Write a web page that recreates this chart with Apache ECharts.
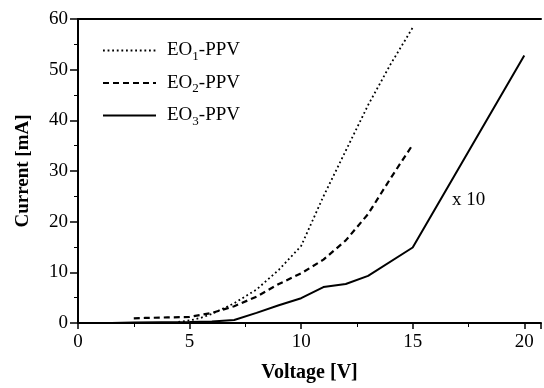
<!DOCTYPE html>
<html><head><meta charset="utf-8">
<script src="https://cdn.jsdelivr.net/npm/echarts@6/dist/echarts.min.js"></script>
<style>html,body{margin:0;padding:0;background:#fff}#c{width:544px;height:388px}</style>
</head><body><div id="c"></div>
<script>
const eo1X = [4.5, 5, 5.5, 6, 7, 8, 9, 10, 11, 12, 13, 14, 15];
const eo1Y = [0.2, 0.5, 1.0, 1.8, 3.9, 6.6, 10.5, 15.2, 25, 34, 43, 51, 58.3];
const eo2X = [2.5, 3, 4, 5, 6, 7, 8, 9, 10, 11, 12, 13, 14, 15];
const eo2Y = [0.9, 1.0, 1.1, 1.2, 2.0, 3.3, 5.2, 7.7, 9.8, 12.5, 16.3, 21.5, 28.5, 35.2];
const eo3X = [1.5, 2.5, 5, 6, 7, 8, 9, 10, 11, 12, 13, 15, 20];
const eo3Y = [0, 0.1, 0.2, 0.3, 0.6, 2.0, 3.5, 4.9, 7.1, 7.7, 9.3, 14.9, 52.8];
const seriesNames = ['EO1-PPV', 'EO2-PPV', 'EO3-PPV'];
const xTicks = [0, 5, 10, 15, 20];
const yTicks = [0, 10, 20, 30, 40, 50, 60];
const note = 'x 10';

const zip = (xs, ys) => xs.map((x, i) => [x, ys[i]]);
const font = 'Liberation Serif';
const chart = echarts.init(document.getElementById('c'));
const sub = {
  a: {fontFamily: font, fontSize: 19, color: '#000'},
  s: {fontFamily: font, fontSize: 13, color: '#000', padding: [12, 0, 0, 0]}
};
chart.setOption({
  animation: false,
  grid: {left: 78, right: 0, top: 19, bottom: 65},
  legend: {
    orient: 'vertical', left: 97, top: 36, itemWidth: 53, itemHeight: 12, itemGap: 10.5,
    data: seriesNames,
    itemStyle: {opacity: 0},
    formatter: n => '{a|' + n.slice(0, 2) + '}{s|' + n.slice(2, 3) + '}{a|' + n.slice(3) + '}',
    textStyle: {rich: sub, fontFamily: font, fontSize: 19, padding: [0, 0, 0, 6]}
  },
  xAxis: [{
    type: 'value', min: 0, max: 20.75, interval: 5,
    name: 'Voltage [V]', nameLocation: 'middle', nameGap: 40,
    nameTextStyle: {fontFamily: font, fontSize: 20, fontWeight: 'bold', color: '#000'},
    axisLine: {lineStyle: {color: '#000', width: 2}},
    axisTick: {length: 6, lineStyle: {color: '#000', width: 1.5}},
    minorTick: {show: true, splitNumber: 2, length: 4, lineStyle: {color: '#000'}},
    axisLabel: {fontFamily: font, fontSize: 19, color: '#000', margin: 10,
      formatter: v => xTicks.includes(v) ? String(v) : ''},
    splitLine: {show: false}
  }, {
    type: 'value', position: 'top', min: 0, max: 20.75,
    axisLine: {show: true, lineStyle: {color: '#000', width: 2}},
    axisTick: {show: false}, axisLabel: {show: false}, splitLine: {show: false}
  }],
  yAxis: {
    type: 'value', min: 0, max: 60, interval: 10,
    name: 'Current [mA]', nameLocation: 'middle', nameGap: 45,
    nameTextStyle: {fontFamily: font, fontSize: 19, fontWeight: 'bold', color: '#000'},
    axisLine: {show: true, lineStyle: {color: '#000', width: 2}},
    axisTick: {show: true, length: 8, lineStyle: {color: '#000', width: 1.5}},
    minorTick: {show: true, splitNumber: 2, length: 4, lineStyle: {color: '#000'}},
    axisLabel: {fontFamily: font, fontSize: 19, color: '#000', margin: 10,
      formatter: v => yTicks.includes(v) ? String(v) : ''},
    splitLine: {show: false}
  },
  graphic: [{
    type: 'text', left: 452, top: 191,
    style: {text: note, font: '19px "Liberation Serif"', fill: '#000'}
  }],
  series: [
    {name: seriesNames[0], type: 'line', data: zip(eo1X, eo1Y), symbol: 'none',
      lineStyle: {color: '#000', width: 1.8, type: [1.8, 2.8]}, itemStyle: {color: '#000'}},
    {name: seriesNames[1], type: 'line', data: zip(eo2X, eo2Y), symbol: 'none',
      lineStyle: {color: '#000', width: 2.2, type: [6, 4]}, itemStyle: {color: '#000'}},
    {name: seriesNames[2], type: 'line', data: zip(eo3X, eo3Y), symbol: 'none',
      lineStyle: {color: '#000', width: 2}, itemStyle: {color: '#000'}}
  ]
});
</script></body></html>
